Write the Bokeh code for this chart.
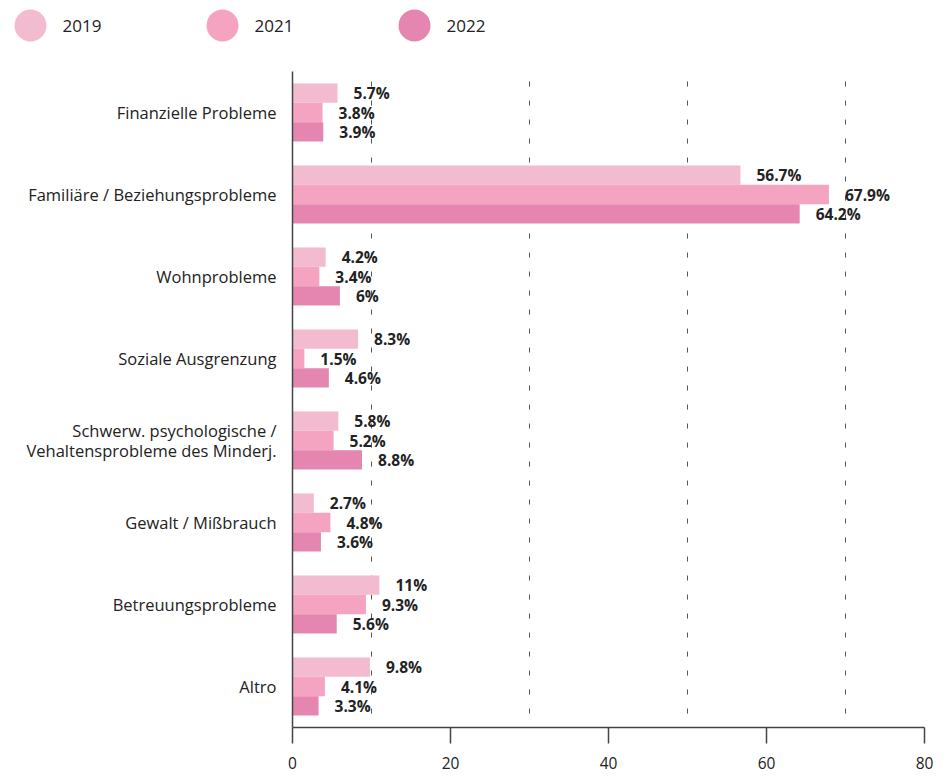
from bokeh.plotting import figure
from bokeh.layouts import column
from bokeh.models import ColumnDataSource, Range1d, FixedTicker
from bokeh.core.properties import value
from bokeh.embed import file_html
from bokeh.resources import INLINE

categories = [
    "Finanzielle Probleme",
    "Familiäre / Beziehungsprobleme",
    "Wohnprobleme",
    "Soziale Ausgrenzung",
    "Schwerw. psychologische /\nVehaltensprobleme des Minderj.",
    "Gewalt / Mißbrauch",
    "Betreuungsprobleme",
    "Altro",
]
years = ["2019", "2021", "2022"]
v2019 = [5.7, 56.7, 4.2, 8.3, 5.8, 2.7, 11, 9.8]
v2021 = [3.8, 67.9, 3.4, 1.5, 5.2, 4.8, 9.3, 4.1]
v2022 = [3.9, 64.2, 6, 4.6, 8.8, 3.6, 5.6, 3.3]
x_ticks = [0, 20, 40, 60, 80]
grid_lines = [10, 30, 50, 70]

colors = ["#F2BBCF", "#F4A4C1", "#E586B1"]
FONT = "Open Sans"
n = len(categories)
centers = [n - i - 0.5 for i in range(n)]
bar_h = 0.235
offsets = [bar_h, 0.0, -bar_h]
W = 938
LEG_H = 50
MAIN_H = 727

# ---- legend figure ----
leg = figure(width=W, height=LEG_H, x_range=Range1d(0, W), y_range=Range1d(LEG_H, 0),
             output_backend="svg", toolbar_location=None, min_border=0, frame_align=False)
leg.axis.visible = False
leg.grid.visible = False
leg.outline_line_color = None
lx = [30 + i * 192 for i in range(len(years))]
leg.scatter(x=lx, y=[25] * 3, size=32, color=colors, line_color=None)
leg.text(x=[x + 32 for x in lx], y=[25] * 3, text=years, text_font=value(FONT),
         text_font_size="17px", text_color="#222222", text_baseline="middle", text_align="left")

# ---- main figure ----
p = figure(width=W, height=MAIN_H, x_range=Range1d(0, 80), y_range=Range1d(0, n),
           output_backend="svg", toolbar_location=None, frame_align=False,
           min_border_left=292, min_border_right=14, min_border_top=21, min_border_bottom=50)
p.outline_line_color = None
p.grid.visible = False

p.segment(x0=grid_lines, x1=grid_lines, y0=[0.17] * 4, y1=[n] * 4,
          line_color="#555555", line_width=1, line_dash="5 14")

for k, vals in enumerate([v2019, v2021, v2022]):
    ys = [c + offsets[k] for c in centers]
    src = ColumnDataSource(dict(y=ys, right=vals, lab=[f"{v:g}%" for v in vals]))
    p.hbar(y="y", left=0, right="right", height=bar_h, source=src,
           fill_color=colors[k], line_color=None)
    p.text(x="right", y="y", text="lab", source=src, x_offset=16,
           text_font=value(FONT), text_font_size="15.5px", text_font_style="bold",
           text_color="#222222", text_baseline="middle", text_align="left")

p.xaxis.ticker = FixedTicker(ticks=x_ticks)
p.xaxis.major_tick_out = 16
p.xaxis.major_tick_in = 0
p.xaxis.minor_tick_line_color = None
p.xaxis.major_label_standoff = 13
p.xaxis.axis_line_color = "#444444"
p.xaxis.axis_line_width = 1.5
p.xaxis.major_tick_line_color = "#444444"
p.xaxis.major_tick_line_width = 1.5
p.xaxis.major_label_text_font_size = "15.5px"

# y tick labels: one tick per text line so multi-line labels keep a tight line spacing
line_step = 0.232
ytick_pos, ytick_lab = [], []
for c, lab in zip(centers, categories):
    lines = lab.split("\n")
    m = len(lines)
    for j, ln in enumerate(lines):
        ytick_pos.append(c + ((m - 1) / 2 - j) * line_step)
        ytick_lab.append(ln)
p.yaxis.ticker = FixedTicker(ticks=ytick_pos)
p.yaxis.major_label_overrides = {pos: lab for pos, lab in zip(ytick_pos, ytick_lab)}
p.yaxis.major_tick_line_color = None
p.yaxis.major_tick_out = 0
p.yaxis.major_tick_in = 0
p.yaxis.minor_tick_line_color = None
p.yaxis.major_label_standoff = 16
p.yaxis.axis_line_color = "#444444"
p.yaxis.axis_line_width = 1.5
p.yaxis.major_label_text_font_size = "16.5px"

for ax in [p.xaxis[0], p.yaxis[0]]:
    ax.major_label_text_font = FONT
    ax.major_label_text_color = "#222222"

layout = column(leg, p)
open("out.html", "w").write(file_html(layout, INLINE))
